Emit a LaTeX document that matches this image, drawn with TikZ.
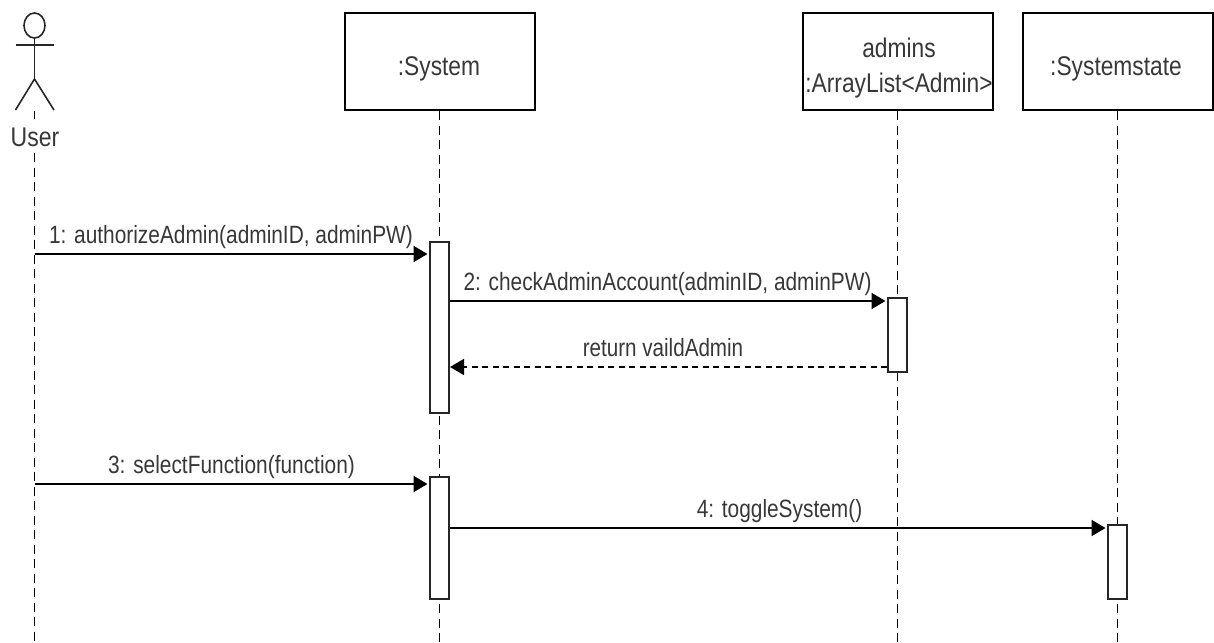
\documentclass[tikz,border=0pt]{standalone}
\usepackage{fontspec}
\setmainfont{Liberation Sans}
\usetikzlibrary{arrows.meta,shapes.geometric}
\newcommand{\narrowtext}[2]{\scalebox{#1}[1]{#2}}
\tikzset{
  x=1pt,y=-1pt,
  objbox/.style={draw=black,line width=2pt,fill=white,minimum width=190pt,minimum height=97pt,inner sep=0pt},
  boxlabel/.style={font=\fontsize{27}{34}\selectfont,text=black!78,inner sep=0pt,anchor=base},
  actbar/.style={draw=black!85,line width=2pt,fill=white,minimum width=19pt,inner sep=0pt},
  lifeline/.style={draw=black,line width=1.7pt,dash pattern=on 9pt off 5.5pt},
  msgcall/.style={draw=black,line width=2pt,-{Triangle[length=14pt,width=16pt]},shorten >=1.5pt},
  msgreturn/.style={draw=black,line width=1.7pt,dash pattern=on 6pt off 4.5pt,-{Triangle[length=14pt,width=16pt,sep=0pt]}},
  msglabel/.style={font=\fontsize{25}{26}\selectfont,text=black!78,inner sep=0pt,anchor=base},
  stick/.style={draw=black!85,line width=1.6pt},
}
\begin{document}
\begin{tikzpicture}
\useasboundingbox (0,0) rectangle (1214,642);
\fill[white] (0,0) rectangle (1214,642);
% objects
\node[objbox] (sys) at (439.5,61.5) {};
\node[objbox] (adm) at (897.5,61.5) {};
\node[objbox] (st) at (1117.5,61.5) {};
\node[boxlabel] (sysT) at (439,75) {\narrowtext{0.843}{:System}};
\node[boxlabel] (admT1) at (899,57) {\narrowtext{0.843}{admins}};
\node[boxlabel] (admT2) at (899,92) {\narrowtext{0.843}{:ArrayList<Admin>}};
\node[boxlabel] (stT) at (1116,75) {\narrowtext{0.843}{:Systemstate}};
% actor
\coordinate (hip) at (34.5,79);
\node[draw=black!85,line width=1.6pt,ellipse,minimum width=21pt,minimum height=25pt,inner sep=0pt] (head) at (34.5,25.5) {};
\coordinate (armL) at (15.5,45);
\coordinate (armR) at (54,45);
\coordinate (legL) at (15.5,110);
\coordinate (legR) at (54,110);
\draw[stick] (head.south) -- (hip);
\draw[stick] (armL) -- (armR);
\draw[stick] (legL) -- (hip) -- (legR);
\node[font=\fontsize{27}{28}\selectfont,text=black!78,inner sep=0pt,anchor=base] (user) at (35,146) {\narrowtext{0.853}{User}};
% lifeline ends
\coordinate (uTop) at (34.5,111);
\coordinate (uGapA) at (34.5,119);
\coordinate (uGapB) at (34.5,153);
\coordinate (uEnd) at (34.5,642);
\coordinate (sEnd) at (439.5,642);
\coordinate (aEnd) at (897.5,642);
\coordinate (stEnd) at (1117.5,642);
\draw[lifeline] (uTop) -- (uGapA);
\draw[lifeline] (uGapB) -- (uEnd);
\draw[lifeline] (sys.south) -- (sEnd);
\draw[lifeline] (adm.south) -- (aEnd);
\draw[lifeline] (st.south) -- (stEnd);
% activations
\node[actbar,minimum height=171pt] (a1) at (439.5,327.5) {};
\node[actbar,minimum height=74pt] (a2) at (897.5,335) {};
\node[actbar,minimum height=122pt] (a3) at (439.5,538) {};
\node[actbar,minimum height=74pt] (a4) at (1117.5,562) {};
% messages
\coordinate (m1) at (34.5,254);
\coordinate (m2) at (439.5,301);
\coordinate (m3) at (897.5,367);
\coordinate (m4) at (34.5,484);
\coordinate (m5) at (439.5,528);
\draw[msgcall] (m1) -- (m1 -| a1.west);
\draw[msgcall] (m2 -| a1.east) -- (m2 -| a2.west);
\draw[msgreturn] (m3 -| a2.west) -- (m3 -| a1.east);
\draw[msgcall] (m4) -- (m4 -| a3.west);
\draw[msgcall] (m5 -| a3.east) -- (m5 -| a4.west);
% labels
\node[msglabel] (l1) at (231,243) {\narrowtext{0.835}{1: authorizeAdmin(adminID, adminPW)}};
\node[msglabel] (l2) at (667.5,290) {\narrowtext{0.835}{2: checkAdminAccount(adminID, adminPW)}};
\node[msglabel] (l3) at (663,356) {\narrowtext{0.825}{return vaildAdmin}};
\node[msglabel] (l4) at (231.5,473) {\narrowtext{0.835}{3: selectFunction(function)}};
\node[msglabel] (l5) at (779.5,517) {\narrowtext{0.835}{4: toggleSystem()}};
\end{tikzpicture}
\end{document}
